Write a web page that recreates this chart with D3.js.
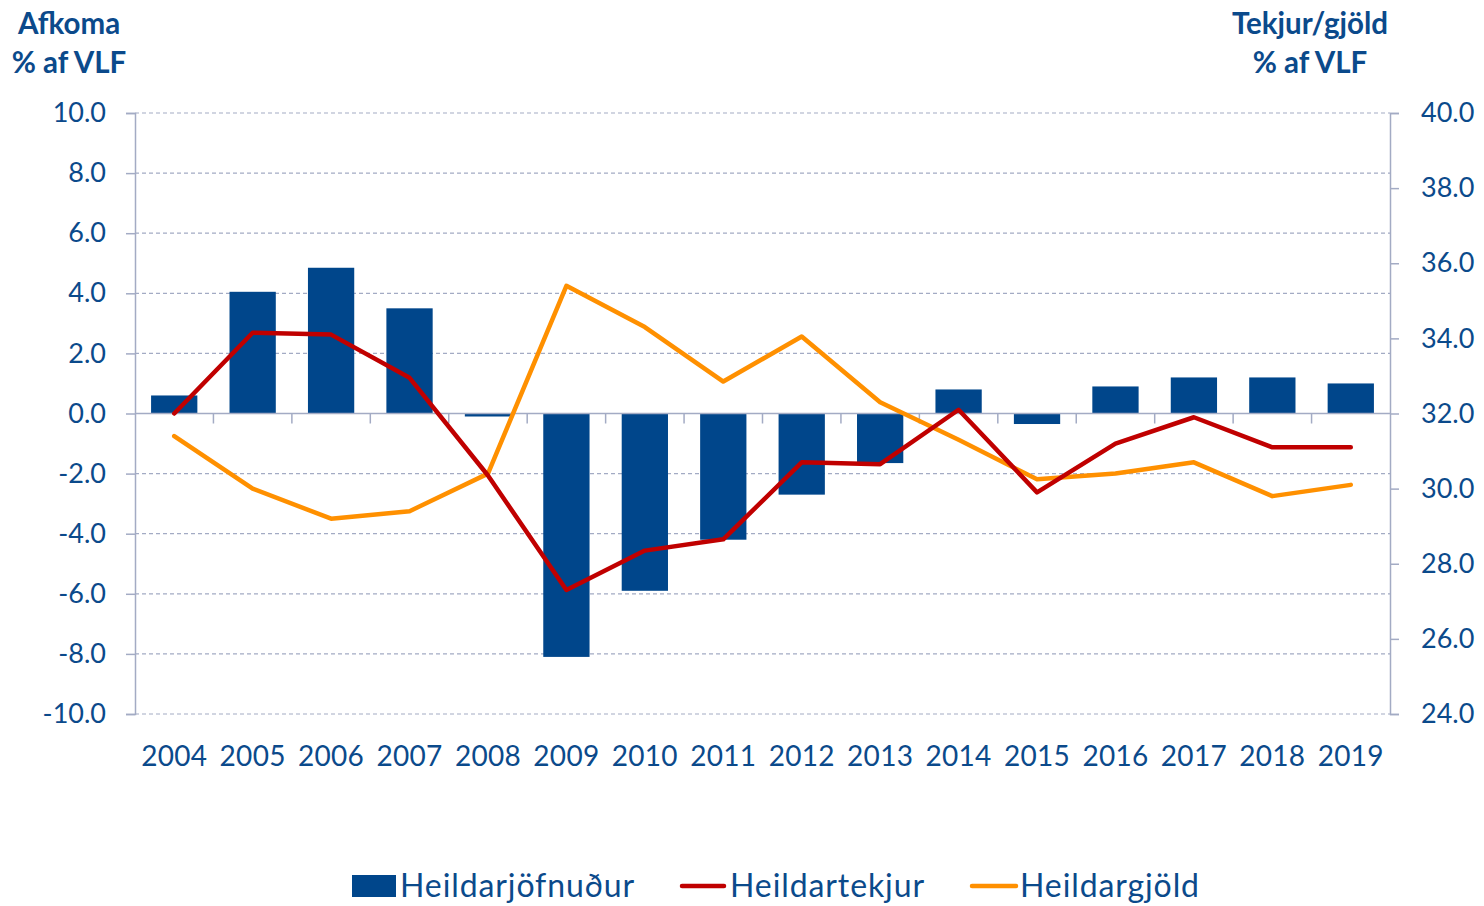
<!DOCTYPE html>
<html><head><meta charset="utf-8">
<script src="https://cdn.jsdelivr.net/npm/d3@7"></script>
<style>
body{margin:0;background:#fff;}
text{font-family:Lato,"Open Sans",sans-serif;}
</style></head>
<body><svg id="c" width="1484" height="906"></svg>
<script>
const years = ["2004","2005","2006","2007","2008","2009","2010","2011","2012","2013","2014","2015","2016","2017","2018","2019"];
const balance = [0.6,4.05,4.85,3.5,-0.1,-8.1,-5.9,-4.2,-2.7,-1.65,0.8,-0.35,0.9,1.2,1.2,1.0];
const revenue = [32.0,34.15,34.1,32.95,30.35,27.3,28.35,28.65,30.7,30.65,32.1,29.9,31.2,31.9,31.1,31.1];
const expenses = [31.4,30.0,29.2,29.4,30.4,35.4,34.3,32.85,34.05,32.3,31.3,30.25,30.4,30.7,29.8,30.1];
const leftTicks = [-10,-8,-6,-4,-2,0,2,4,6,8,10];
const rightTicks = [24,26,28,30,32,34,36,38,40];
const legendLabels = ["Heildarjöfnuður","Heildartekjur","Heildargjöld"];

const blue="#00468B", red="#C00000", orange="#FF9000", txt="#0B4A8B", axisC="#A3ABC4";
const svg=d3.select("#c");
const L=135,R=1390,T=113,B=714;
const x=d3.scaleBand().domain(years).range([L,R]).paddingInner(0.41).paddingOuter(0.205);
const xb=d3.scaleBand().domain(years).range([L,R]);
const yL=d3.scaleLinear().domain([-10,10]).range([B,T]);
const yR=d3.scaleLinear().domain([24,40]).range([B,T]);
const fmt=d=>d3.format(".1f")(d).replace("\u2212","-");

// grid
svg.append("g").selectAll("line").data(leftTicks.filter(d=>d!==0)).join("line")
 .attr("x1",L).attr("x2",R).attr("y1",d=>yL(d)).attr("y2",d=>yL(d))
 .attr("stroke",axisC).attr("stroke-width",1.2).attr("stroke-dasharray","4,3");

// bars
svg.append("g").selectAll("rect").data(years).join("rect")
 .attr("x",d=>x(d)).attr("width",x.bandwidth())
 .attr("y",(d,i)=>yL(Math.max(0,balance[i])))
 .attr("height",(d,i)=>Math.abs(yL(balance[i])-yL(0)))
 .attr("fill",blue);

// axes
const gl=svg.append("g").attr("transform",`translate(${L},0)`)
 .call(d3.axisLeft(yL).tickValues(leftTicks).tickFormat(fmt).tickSizeOuter(0).tickSize(9).tickPadding(20));
const gr=svg.append("g").attr("transform",`translate(${R},0)`)
 .call(d3.axisRight(yR).tickValues(rightTicks).tickFormat(fmt).tickSizeOuter(0).tickSize(9).tickPadding(22));
[gl,gr].forEach(g=>{
 g.select(".domain").attr("stroke",axisC).attr("stroke-width",1.5);
 g.selectAll(".tick line").attr("stroke",axisC).attr("stroke-width",1.5);
 g.selectAll(".tick text").attr("fill",txt).style("font-size","27px").style("font-family","Lato,sans-serif");
});
// category axis at zero
const gx=svg.append("g").attr("transform",`translate(0,${yL(0)})`);
gx.append("line").attr("x1",L).attr("x2",R).attr("stroke",axisC).attr("stroke-width",1.5);
gx.selectAll("line.t").data(years.slice(1)).join("line").attr("class","t")
 .attr("x1",d=>xb(d)).attr("x2",d=>xb(d)).attr("y1",0).attr("y2",10)
 .attr("stroke",axisC).attr("stroke-width",1.5);
svg.append("g").selectAll("text").data(years).join("text")
 .attr("x",d=>xb(d)+xb.bandwidth()/2).attr("y",766).attr("text-anchor","middle")
 .attr("fill",txt).style("font-size","28px").style("letter-spacing","0.3px").text(d=>d);

// lines
const ln=d3.line().x((d,i)=>xb(years[i])+xb.bandwidth()/2).y(d=>yR(d));
svg.append("path").datum(expenses).attr("d",ln).attr("fill","none").attr("stroke",orange).attr("stroke-width",4.5).attr("stroke-linecap","round").attr("stroke-linejoin","round");
svg.append("path").datum(revenue).attr("d",ln).attr("fill","none").attr("stroke",red).attr("stroke-width",4.5).attr("stroke-linecap","round").attr("stroke-linejoin","round");

// titles
const tt=svg.append("g").attr("fill",txt).style("font-size","29.5px").style("font-weight","bold").attr("text-anchor","middle");
tt.append("text").attr("x",69).attr("y",34).text("Afkoma");
tt.append("text").attr("x",69).attr("y",73).text("% af VLF");
tt.append("text").attr("x",1310).attr("y",34).text("Tekjur/gjöld");
tt.append("text").attr("x",1310).attr("y",73).text("% af VLF");

// legend
const lg=svg.append("g");
lg.append("rect").attr("x",352).attr("y",875).attr("width",44).attr("height",22).attr("fill",blue);
lg.append("line").attr("x1",682).attr("x2",724).attr("y1",886).attr("y2",886).attr("stroke",red).attr("stroke-width",4.5).attr("stroke-linecap","round");
lg.append("line").attr("x1",972).attr("x2",1016).attr("y1",886).attr("y2",886).attr("stroke",orange).attr("stroke-width",4.5).attr("stroke-linecap","round");
const lx=[400,730,1020];
lg.selectAll("text").data(legendLabels).join("text").attr("x",(d,i)=>lx[i]).attr("y",897)
 .attr("fill",txt).style("font-size","32px").style("letter-spacing","0.9px").text(d=>d);
</script></body></html>
